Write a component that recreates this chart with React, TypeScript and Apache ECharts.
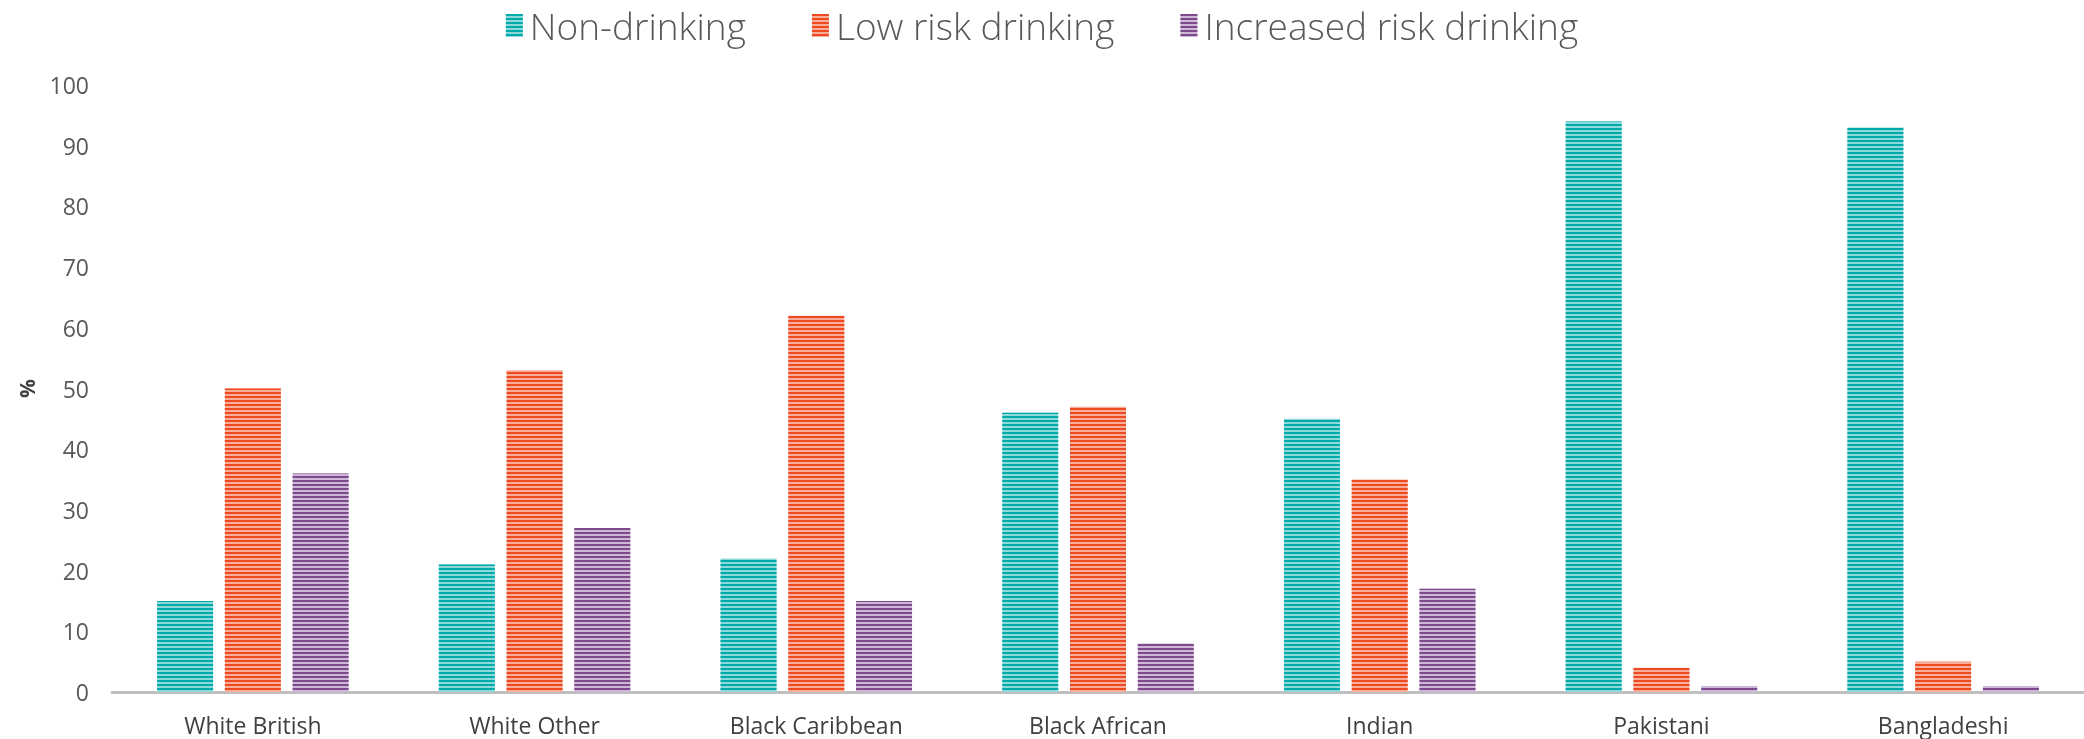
import React, { useEffect, useRef } from "react";
import * as echarts from "echarts";

const categories = ["White British", "White Other", "Black Caribbean", "Black African", "Indian", "Pakistani", "Bangladeshi"];
const seriesNames = ["Non-drinking", "Low risk drinking", "Increased risk drinking"];
const nonDrinking = [15, 21, 22, 46, 45, 94, 93];
const lowRisk = [50, 53, 62, 47, 35, 4, 5];
const increasedRisk = [36, 27, 15, 8, 17, 1, 1];

const lightColors = ["#8ed8d8", "#f7ad98", "#cdb6d6"];
const darkColors = ["#00a9aa", "#ee4a22", "#7d4b8c"];

export default function App() {
  const ref = useRef<HTMLDivElement>(null);
  useEffect(() => {
    document.body.style.margin = "0";
    const chart = echarts.init(ref.current!, undefined, { renderer: "svg" });
    const data = [nonDrinking, lowRisk, increasedRisk];
    const font = "'Open Sans', 'Noto Sans', sans-serif";
    chart.setOption({
      animation: false,
      aria: { enabled: true, decal: { show: true } },
      legend: {
        top: 0,
        left: "center",
        itemWidth: 17,
        itemHeight: 23,
        itemGap: 66,
        icon: "rect",
        textStyle: { fontSize: 37, lineHeight: 41, color: "#595959", fontFamily: font, fontWeight: 300, padding: [0, 0, 0, 2] },
        data: seriesNames,
      },
      grid: { left: 112, right: 0, top: 85, bottom: 47, containLabel: false },
      xAxis: {
        type: "category",
        data: categories,
        axisLine: { lineStyle: { color: "#bfbfbf", width: 3 } },
        axisTick: { show: false },
        axisLabel: { fontSize: 23, color: "#404040", fontFamily: font, margin: 21 },
      },
      yAxis: {
        type: "value",
        min: 0,
        max: 100,
        interval: 10,
        name: "%",
        nameLocation: "middle",
        nameGap: 75,
        nameRotate: 90,
        nameTextStyle: { fontSize: 21, fontWeight: "bold", color: "#404040", fontFamily: font },
        splitLine: { show: false },
        axisLine: { show: false },
        axisTick: { show: false },
        axisLabel: { fontSize: 23, color: "#595959", fontFamily: font, margin: 23 },
      },
      series: seriesNames.map((name, i) => ({
        name,
        type: "bar",
        data: data[i],
        barWidth: 56,
        barGap: "21%",
        itemStyle: {
          color: lightColors[i],
          decal: {
            symbol: "rect",
            symbolSize: 1,
            color: darkColors[i],
            dashArrayX: [[1, 0]],
            dashArrayY: [2, 2],
            rotation: 0,
          },
        },
      })),
    });
    return () => chart.dispose();
  }, []);
  return <div ref={ref} style={{ position: "fixed", left: 0, top: 0, width: 2084, height: 739 }} />;
}
